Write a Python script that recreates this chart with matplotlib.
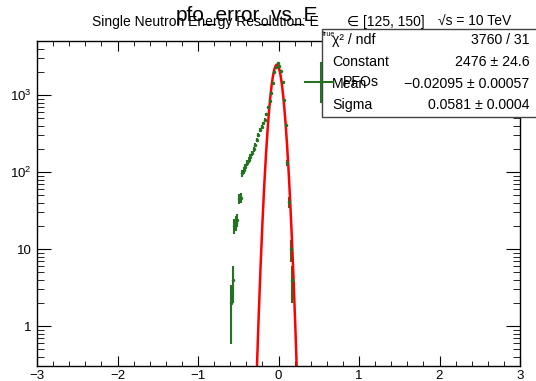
import numpy as np
import matplotlib
matplotlib.use("Agg")
import matplotlib.pyplot as plt
from matplotlib.patches import Rectangle
from matplotlib.lines import Line2D
from matplotlib.ticker import FixedLocator, FixedFormatter, MultipleLocator

plt.rcParams['font.family'] = ['Liberation Sans', 'DejaVu Sans']
plt.rcParams['mathtext.fontset'] = 'custom'
plt.rcParams['mathtext.rm'] = 'Liberation Sans'

# datos del histograma (centros de bin y cuentas)
centros = [-0.59, -0.57, -0.55, -0.53, -0.51, -0.49, -0.47, -0.45, -0.43, -0.41,
           -0.39, -0.37, -0.35, -0.33, -0.31, -0.29, -0.27, -0.25, -0.23, -0.21,
           -0.19, -0.17, -0.15, -0.13, -0.11, -0.09, -0.07, -0.05, -0.03, -0.01,
           0.01, 0.03, 0.05, 0.07, 0.09, 0.11, 0.13, 0.15, 0.17]
cuentas = [2, 4, 20, 22, 24, 45, 46, 96, 106, 118,
           130, 143, 158, 176, 197, 224, 260, 302, 351, 390,
           430, 480, 560, 705, 850, 1052, 1419, 2000, 2350, 2580,
           2400, 2030, 1489, 861, 404, 132, 41, 10, 4]
ancho_bin = 0.02

# parametros del ajuste gaussiano (caja de estadisticas)
constante = 2476
media = -0.02095
sigma = 0.0581

W, H = 536, 381
fig = plt.figure(figsize=(W / 100, H / 100), dpi=100)

def fx(px):
    return px / W

def fy(py):
    return 1 - py / H

ax = fig.add_axes([fx(37), fy(366), fx(520) - fx(37), fy(41) - fy(366)])

verde = '#237323'
x = np.array(centros)
y = np.array(cuentas, dtype=float)
ax.errorbar(x, y, yerr=np.sqrt(y), xerr=ancho_bin / 2, fmt='.', ms=3,
            color=verde, ecolor=verde, elinewidth=1.5, capsize=0)

xf = np.linspace(-0.6, 0.25, 600)
ax.plot(xf, constante * np.exp(-0.5 * ((xf - media) / sigma) ** 2), color='red', lw=1.8)

ax.set_yscale('log')
ax.set_xlim(-3, 3)
ax.set_ylim(0.303, 5040)

ax.xaxis.set_minor_locator(MultipleLocator(0.2))
ax.set_xticks([-3, -2, -1, 0, 1, 2, 3])
ax.set_xticklabels(['\u22123', '\u22122', '\u22121', '0', '1', '2', '3'])

ax.yaxis.set_major_locator(FixedLocator([1, 10, 100, 1000]))
ax.yaxis.set_major_formatter(FixedFormatter(['1', '10', '$10^{2}$', '$10^{3}$']))
menores = [m * d for d in [0.1, 1, 10, 100, 1000] for m in range(2, 10)]
ax.yaxis.set_minor_locator(FixedLocator(menores))
ax.yaxis.set_minor_formatter(FixedFormatter([]))

ax.tick_params(which='both', direction='in', top=True, right=True, labelsize=9.5)
ax.tick_params(axis='x', which='major', length=7.4, pad=3)
ax.tick_params(axis='x', which='minor', length=3.7)
ax.tick_params(axis='y', which='major', length=10, pad=4)
ax.tick_params(axis='y', which='minor', length=5)
for s in ax.spines.values():
    s.set_linewidth(1.0)

# caja de estadisticas
caja = Rectangle((fx(321.5), fy(117)), fx(540) - fx(321.5), fy(29) - fy(117),
                 transform=fig.transFigure, facecolor='white', edgecolor='#444444',
                 lw=1.0, zorder=1)
fig.patches.append(caja)

filas = [("\u03c7\u00b2 / ndf", "3760 / 31", 40),
         ("Constant", "2476 \u00b1 24.6", 62),
         ("Mean", "\u22120.02095 \u00b1 0.00057", 83.5),
         ("Sigma", "0.0581 \u00b1 0.0004", 105)]
for etiqueta, valor, py in filas:
    fig.text(fx(332), fy(py), etiqueta, fontsize=10.2, va='center', ha='left', zorder=3)
    fig.text(fx(529.5), fy(py), valor, fontsize=10.2, va='center', ha='right', zorder=3)

# leyenda
fig.add_artist(Line2D([fx(305), fx(333)], [fy(81.5), fy(81.5)], color=verde, lw=1.5, zorder=4))
fig.add_artist(Line2D([fx(321), fx(321)], [fy(63), fy(102)], color=verde, lw=1.5, zorder=4))
fig.text(fx(343), fy(82), "PFOs", fontsize=10.2, va='center', ha='left', zorder=4)

# titulos
fig.text(fx(176), fy(15), "pfo_error_vs_E", fontsize=15, va='center', ha='left', zorder=3)
fig.text(fx(92), fy(22), "Single Neutron Energy Resolution: E", fontsize=10, va='center', ha='left', zorder=3)
fig.text(fx(323), fy(34), "true", fontsize=5, va='center', ha='left', zorder=3)
fig.text(fx(347), fy(22), "\u2208 [125, 150]", fontsize=10, va='center', ha='left', zorder=3)
fig.text(fx(438), fy(22), "\u221as = 10 TeV", fontsize=10, va='center', ha='left', zorder=3)

fig.savefig("out.png", dpi=100)
